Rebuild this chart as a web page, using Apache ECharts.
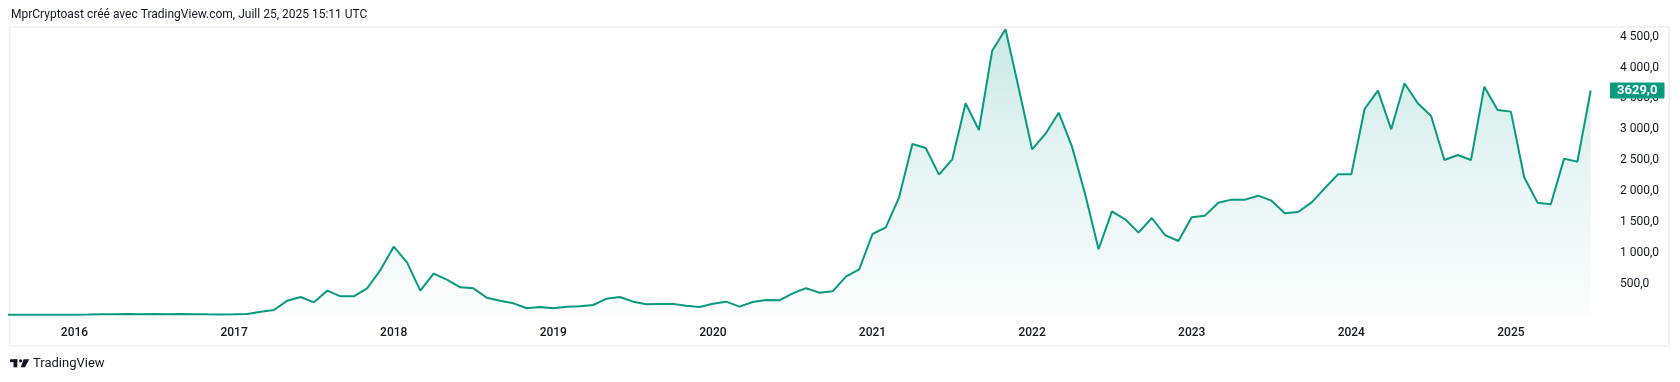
<!DOCTYPE html>
<html><head><meta charset="utf-8">
<script src="https://cdn.jsdelivr.net/npm/echarts@6/dist/echarts.min.js"></script>
<style>html,body{margin:0;padding:0;background:#fff}#c{width:1680px;height:382px}</style>
</head><body><div id="c"></div>
<script>
// Monthly close values (ETH)
const startYear = 2015, startMonth = 8;
const v2015 = [1.35, 0.74, 1.0, 0.87, 0.93];
const v2016 = [2.2, 6.3, 11.5, 8.8, 14.0, 12.3, 12.7, 11.8, 13.2, 11.4, 8.6, 8.0];
const v2017 = [10.7, 16, 50, 79, 230, 290, 203, 392, 300, 300, 430, 726];
const v2018 = [1103, 850, 392, 667, 570, 446, 430, 278, 230, 187, 107, 128];
const v2019 = [107, 133, 139, 160, 262, 290, 214, 171, 176, 176, 149, 128];
const v2020 = [181, 214, 133, 209, 241, 236, 349, 432, 360, 381, 618, 737];
const v2021 = [1308, 1416, 1901, 2764, 2699, 2268, 2516, 3422, 2990, 4273, 4619, 3660];
const v2022 = [2678, 2926, 3270, 2721, 1942, 1061, 1675, 1546, 1330, 1567, 1290, 1195];
const v2023 = [1578, 1605, 1815, 1864, 1864, 1928, 1847, 1643, 1664, 1815, 2047, 2273];
const v2024 = [2273, 3330, 3626, 3001, 3745, 3422, 3217, 2505, 2586, 2505, 3691, 3314];
const v2025 = [3287, 2225, 1815, 1788, 2527, 2478, 3629];
const yearTickLabels = ['2016','2017','2018','2019','2020','2021','2022','2023','2024','2025'];
const lastPriceLabel = '3629,0';

const values = [].concat(v2015, v2016, v2017, v2018, v2019, v2020, v2021, v2022, v2023, v2024, v2025);
const categories = [];
{ let y = startYear, m = startMonth;
  for (let i = 0; i < values.length; i++) {
    categories.push(y + '-' + String(m).padStart(2, '0'));
    m++; if (m > 12) { m = 1; y++; }
  } }

function fmt(v) {
  const s = v.toFixed(1).split('.');
  let ip = s[0];
  if (ip.length > 3) ip = ip.slice(0, -3) + ' ' + ip.slice(-3);
  return ip + ',' + s[1];
}
const GREEN = '#089981';
const FONT = 'Roboto, "Noto Sans", sans-serif';
const chart = echarts.init(document.getElementById('c'), null, {renderer: 'canvas'});
chart.setOption({
  animation: false,
  backgroundColor: '#ffffff',
  textStyle: {fontFamily: FONT},
  grid: {left: 8, right: 89.3, top: 5.7, bottom: 67.1, containLabel: false, outerBoundsMode: 'none'},
  graphic: [
    {type: 'rect', shape: {x: 9.5, y: 27, width: 1659.5, height: 319}, style: {fill: 'none', stroke: '#eef0f3', lineWidth: 1.5}, z: -1, silent: true},
    {type: 'text', x: 11, y: 15, style: {text: 'MprCryptoast créé avec TradingView.com, Juill 25, 2025 15:11 UTC', font: '12px ' + FONT, fill: '#131722', textVerticalAlign: 'middle'}},
    {type: 'rect', shape: {x: 10, y: 359.3, width: 7.3, height: 2.9}, style: {fill: '#131722'}},
    {type: 'rect', shape: {x: 13.5, y: 359.3, width: 3.8, height: 8}, style: {fill: '#131722'}},
    {type: 'circle', shape: {cx: 20.6, cy: 360.8, r: 1.6}, style: {fill: '#131722'}},
    {type: 'polygon', shape: {points: [[23.6, 359.3], [29.3, 359.3], [25.0, 367.3], [20.8, 367.3]]}, style: {fill: '#131722'}},
    {type: 'text', x: 33, y: 363.7, style: {text: 'TradingView', font: '13px ' + FONT, fill: '#131722', textVerticalAlign: 'middle'}}
  ],
  xAxis: {
    type: 'category', data: categories, boundaryGap: false,
    axisLine: {show: false}, axisTick: {show: false}, splitLine: {show: false},
    axisLabel: {
      interval: (i, v) => v.endsWith('-01') && yearTickLabels.indexOf(v.slice(0, 4)) >= 0,
      formatter: v => v.slice(0, 4), margin: 12, color: '#131722', fontSize: 12, fontFamily: FONT, fontWeight: 500
    }
  },
  yAxis: {
    type: 'value', position: 'right', min: 0, max: 5000, interval: 500,
    axisLine: {show: false}, axisTick: {show: false}, splitLine: {show: false},
    axisLabel: {margin: 29.3, color: '#131722', fontSize: 12, fontFamily: FONT,
      formatter: v => (v <= 0 || v > 4500) ? '' : fmt(v)}
  },
  series: [{
    type: 'line', data: values, symbol: 'none', smooth: false,
    lineStyle: {color: GREEN, width: 2},
    areaStyle: {color: new echarts.graphic.LinearGradient(0, 0, 0, 1, [
      {offset: 0, color: 'rgba(8,153,129,0.30)'},
      {offset: 0.5, color: 'rgba(8,153,129,0.14)'},
      {offset: 1, color: 'rgba(8,153,129,0.02)'}
    ])},
    markLine: {
      silent: true, symbol: 'none',
      lineStyle: {color: 'rgba(0,0,0,0)', width: 0},
      label: {show: true, position: 'end', distance: 19.3, formatter: lastPriceLabel,
        backgroundColor: GREEN, color: '#ffffff', fontWeight: 'bold', fontSize: 13, fontFamily: FONT,
        lineHeight: 14, padding: [1, 7, 1, 7], borderRadius: 1},
      data: [{yAxis: values[values.length - 1]}]
    }
  }]
});
</script></body></html>
